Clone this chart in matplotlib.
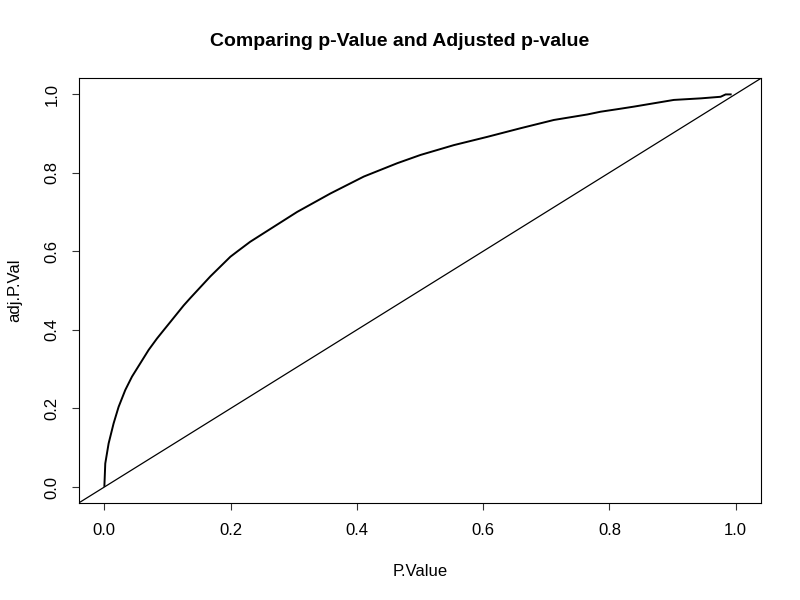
import matplotlib
matplotlib.use("Agg")
import matplotlib.pyplot as plt

plt.rcParams['font.family'] = ['Liberation Sans', 'DejaVu Sans']

# Values (P.Value, adj.P.Val)
p_value = [0.0002, 0.0016, 0.0069, 0.0148, 0.0227, 0.0333, 0.0439, 0.0571,
           0.0703, 0.0835, 0.094, 0.1046, 0.1257, 0.1363, 0.168, 0.1997,
           0.2103, 0.231, 0.2525, 0.3054, 0.3582, 0.411, 0.464, 0.5008,
           0.5536, 0.6065, 0.6593, 0.712, 0.765, 0.786, 0.815, 0.839, 0.902,
           0.945, 0.976, 0.984, 0.992]
adj_p_val = [0.003, 0.060, 0.111, 0.162, 0.204, 0.247, 0.281, 0.315,
             0.349, 0.378, 0.399, 0.420, 0.462, 0.481, 0.536, 0.586,
             0.599, 0.624, 0.646, 0.700, 0.747, 0.790, 0.824, 0.845,
             0.870, 0.891, 0.913, 0.934, 0.948, 0.955, 0.962, 0.968, 0.985,
             0.989, 0.993, 0.999, 0.999]

ticks = [0.0, 0.2, 0.4, 0.6, 0.8, 1.0]
tick_labels = ["0.0", "0.2", "0.4", "0.6", "0.8", "1.0"]

fig = plt.figure(figsize=(8, 6), dpi=100)
ax = fig.add_axes([0.09875, 0.162, 0.8525, 0.7075])

ax.plot(p_value, adj_p_val, color='black', lw=1.4, solid_joinstyle='round')
ax.axline((0, 0), slope=1, color='black', lw=0.9)

ax.set_xlim(-0.04, 1.04)
ax.set_ylim(-0.04, 1.04)
ax.set_xticks(ticks)
ax.set_xticklabels(tick_labels)
ax.set_yticks(ticks)
ax.set_yticklabels(tick_labels, rotation=90, va='center')
ax.tick_params(direction='out', length=5.2, width=0.8, labelsize=12, pad=9, color='#333333')
for s in ax.spines.values():
    s.set_linewidth(0.8)

fig.text(0.5, 1 - 42/600, "Comparing p-Value and Adjusted p-value", ha='center', va='center',
         fontsize=14, fontweight='bold')
fig.text((79 + 761) / 2 / 800, 1 - 572/600, "P.Value", ha='center', va='center', fontsize=12)
fig.text(15/800, 1 - 290/600, "adj.P.Val", ha='center', va='center', rotation=90, fontsize=12)

fig.savefig("out.png", dpi=100)
